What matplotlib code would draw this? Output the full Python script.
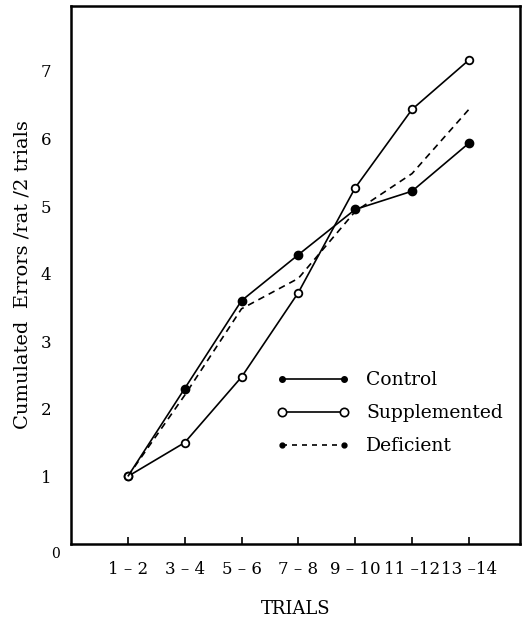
import matplotlib
matplotlib.use("Agg")
import matplotlib.pyplot as plt
from matplotlib.lines import Line2D

trials = ["1 – 2", "3 – 4", "5 – 6", "7 – 8", "9 – 10", "11 –12", "13 –14"]
control = [1.0, 2.3, 3.6, 4.28, 4.95, 5.22, 5.93]
supplemented = [1.0, 1.5, 2.47, 3.72, 5.27, 6.43, 7.16]
deficient = [1.0, 2.2, 3.48, 3.93, 4.92, 5.48, 6.43]
yticks = [1, 2, 3, 4, 5, 6, 7]

plt.rcParams['font.family'] = ['DejaVu Serif']

fig = plt.figure(figsize=(5.24, 6.19), dpi=100)
ax = fig.add_axes([71/524, 1-544/619, (520-71)/524, (544-6)/619])

x = list(range(1, len(trials) + 1))
ax.plot(x, control, color='black', lw=1.2, marker='o', ms=6, mfc='black', mec='black')
ax.plot(x, supplemented, color='black', lw=1.2, marker='o', ms=5.5, mfc='white', mec='black', mew=1.3)
ax.plot(x, deficient, color='black', lw=1.2, ls=(0, (4, 3)))

ax.set_xlim(0, 7.9)
ax.set_ylim(0, 7.96)
ax.set_xticks(x)
ax.set_xticklabels(trials, fontsize=12)
ax.set_yticks(yticks)
ax.set_yticklabels([str(v) for v in yticks], fontsize=12)
ax.tick_params(axis='x', direction='in', length=5, width=1.2, pad=12)
ax.tick_params(axis='y', length=0, pad=14)
for s in ax.spines.values():
    s.set_linewidth(1.8)

ax.text(-0.28, -0.05, "0", transform=ax.transData, fontsize=10, ha='center', va='top')
ax.set_xlabel("TRIALS", fontsize=13, labelpad=16)
ax.set_ylabel("Cumulated  Errors /rat /2 trials", fontsize=14, labelpad=7)

handles = [
    Line2D([0], [0], color='black', lw=1.2, marker='o', ms=4, mfc='black'),
    Line2D([0], [0], color='black', lw=1.2, marker='o', ms=6, mfc='white', mew=1.2),
    Line2D([0], [0], color='black', lw=1.2, ls=(0, (3, 3)), marker='o', ms=3.5, mfc='black'),
]
ax.legend(handles, ["Control", "Supplemented", "Deficient"], loc='upper left',
          bbox_to_anchor=(0.42, 0.352), frameon=False, numpoints=2, handlelength=3.9,
          handletextpad=0.9, labelspacing=0.8, fontsize=13.5)

fig.savefig("out.png", dpi=100)
